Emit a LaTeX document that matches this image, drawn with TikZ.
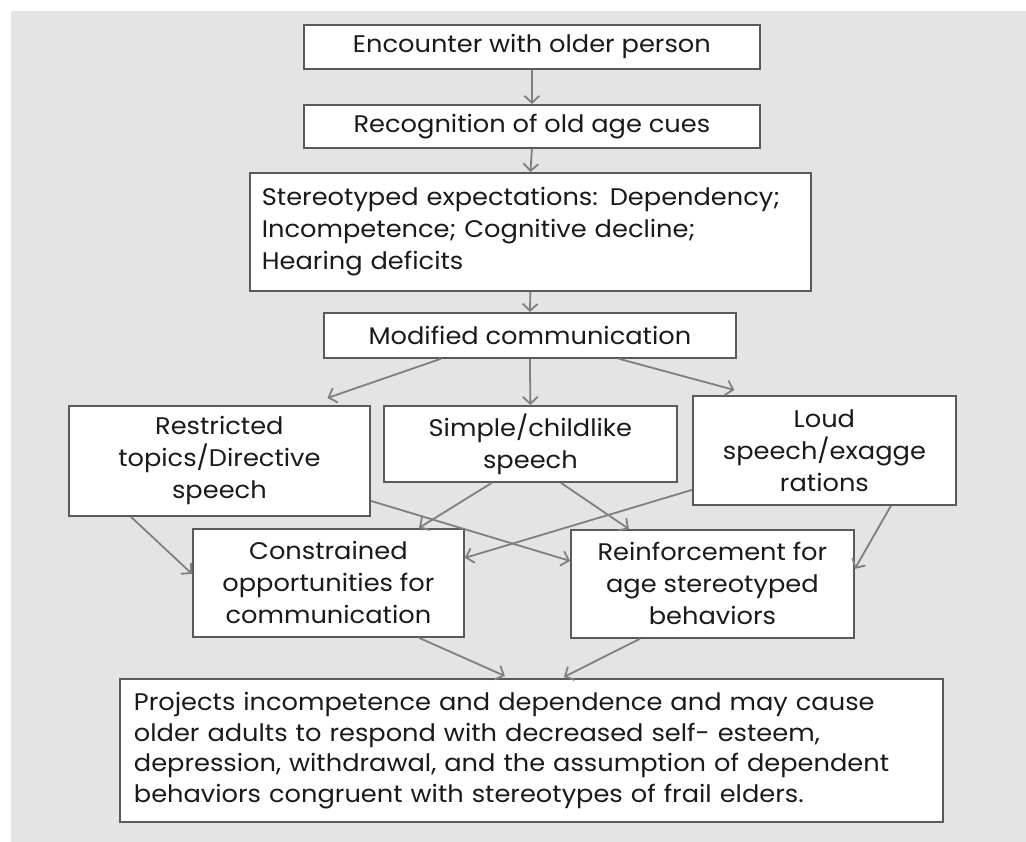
\documentclass[tikz,border=0pt]{standalone}
\usepackage{fontspec}
\setmainfont[FakeStretch=1.07]{Poppins}
\usetikzlibrary{arrows.meta}
\definecolor{bgcol}{HTML}{E4E4E4}
\definecolor{bordercol}{HTML}{5A5A5A}
\definecolor{arrowcol}{HTML}{7F7F7F}
\definecolor{txtcol}{HTML}{1A1A1A}
\tikzset{
  box/.style={draw=bordercol, line width=1.8pt, fill=white, inner sep=0pt,
    align=center, text=txtcol, anchor=north west,
    font=\fontsize{24}{32}\selectfont},
  conn/.style={draw=arrowcol, line width=1.8pt,
    -{Straight Barb[length=7pt,width=15pt,line width=1.8pt]}},
}
\begin{document}
\begin{tikzpicture}[x=1pt,y=-1pt]
\useasboundingbox (0,0) rectangle (1026,842);
\fill[bgcol] (11,11) rectangle (1026,842);

\node[box, minimum width=456pt, minimum height=44pt] (enc) at (303,24) {Encounter with older person};
\node[box, minimum width=456pt, minimum height=43pt] (rec) at (303,104) {Recognition of old age cues};
\node[box, minimum width=561pt, minimum height=118pt, text width=537pt, align=left] (ste) at (249,172)
  {Stereotyped expectations: Dependency;\\Incompetence; Cognitive decline;\\Hearing deficits};
\node[box, minimum width=412pt, minimum height=45pt] (mod) at (323,312) {Modified communication};
\node[box, minimum width=301pt, minimum height=110pt] (res) at (68,405) {Restricted\\topics/Directive\\speech};
\node[box, minimum width=293pt, minimum height=76pt] (sim) at (383,405) {Simple/childlike\\speech};
\node[box, minimum width=263pt, minimum height=109pt] (lou) at (692,395) {Loud\\speech/exagge\\rations};
\node[box, minimum width=271pt, minimum height=108pt] (con) at (192,528) {Constrained\\opportunities for\\communication};
\node[box, minimum width=283pt, minimum height=108pt] (rei) at (570,529) {Reinforcement for\\age stereotyped\\behaviors};
\node[box, minimum width=823pt, minimum height=143pt, text width=795pt, align=left,
  font=\fontsize{24}{30.5}\selectfont] (bot) at (119,678)
  {Projects incompetence and dependence and may cause\\older adults to respond with decreased self- esteem,\\depression, withdrawal, and the assumption of dependent\\behaviors congruent with stereotypes of frail elders.};

\draw[conn] (enc.south) -- (rec.north);
\draw[conn] (rec.south) -- (ste.north);
\draw[conn] (ste.south) -- (mod.north);
\draw[conn] ([xshift=-89pt]mod.south) -- ([xshift=108pt,yshift=7pt]res.north);
\draw[conn] (mod.south) -- (sim.north);
\draw[conn] ([xshift=89pt]mod.south) -- ([xshift=-90pt,yshift=5pt]lou.north);
\draw[conn] ([xshift=-88.5pt]res.south) -- ([yshift=9pt]con.west);
\draw[conn] ([yshift=-40pt]res.east) -- ([yshift=23pt]rei.west);
\draw[conn] ([xshift=-38.5pt]sim.south) -- ([xshift=90.5pt]con.north);
\draw[conn] ([xshift=30.5pt]sim.south) -- ([xshift=-83.5pt]rei.north);
\draw[conn] ([yshift=-39.5pt]lou.west) -- ([yshift=25pt]con.east);
\draw[conn] ([xshift=66.5pt]lou.south) -- ([yshift=15pt]rei.east);
\draw[conn] ([xshift=90.5pt]con.south) -- ([xshift=-26.5pt,yshift=2pt]bot.north);
\draw[conn] ([xshift=-72.5pt]rei.south) -- ([xshift=32.5pt,yshift=1pt]bot.north);
\end{tikzpicture}
\end{document}
